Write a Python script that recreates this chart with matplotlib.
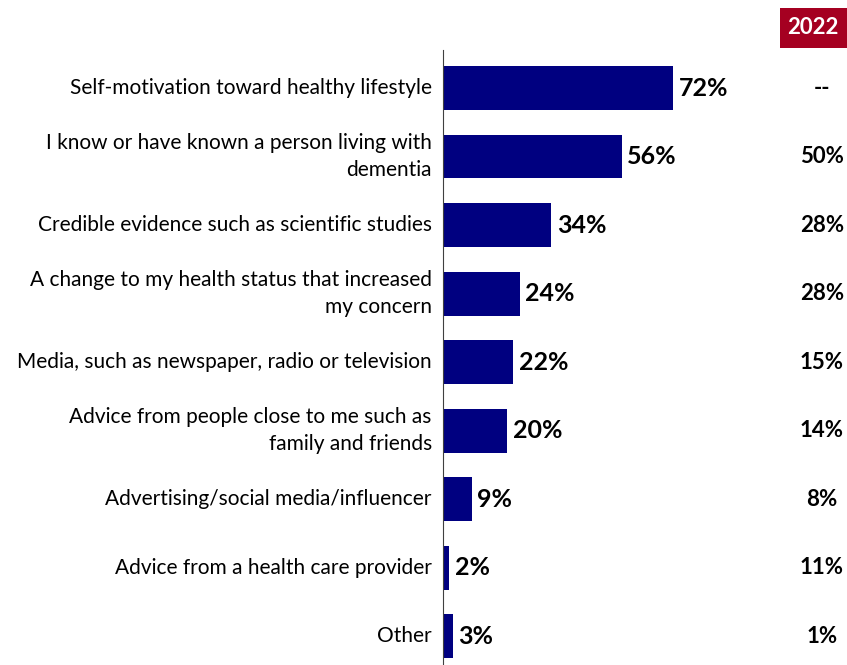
import matplotlib.pyplot as plt
from matplotlib.patches import Rectangle

plt.rcParams['font.family'] = ['Lato', 'DejaVu Sans']

labels = [
    "Self-motivation toward healthy lifestyle",
    "I know or have known a person living with\ndementia",
    "Credible evidence such as scientific studies",
    "A change to my health status that increased\nmy concern",
    "Media, such as newspaper, radio or television",
    "Advice from people close to me such as\nfamily and friends",
    "Advertising/social media/influencer",
    "Advice from a health care provider",
    "Other",
]
values = [72, 56, 34, 24, 22, 20, 9, 2, 3]
prev_2022 = ["--", "50%", "28%", "28%", "15%", "14%", "8%", "11%", "1%"]

fig = plt.figure(figsize=(8.47, 6.65), dpi=100)
ax = fig.add_axes([443 / 847, 0, 404 / 847, 615 / 665])

ypos = list(range(len(values)))
ax.barh(ypos, values, height=0.64, color="#000080")
ax.set_xlim(0, 404 / 3.19)
ax.set_ylim(8.42, -0.555)

for y, v in zip(ypos, values):
    ax.text(v + 1.8, y, f"{v}%", va="center", ha="left",
            fontsize=18, fontweight="bold")

for y, lab in zip(ypos, labels):
    ax.text(-3.5, y, lab, va="center", ha="right", fontsize=15,
            linespacing=1.4)

# previous wave column
for y, p in zip(ypos, prev_2022):
    ax.text((822 - 443) / 404, y, p, transform=ax.get_yaxis_transform(),
            ha="center", va="center", fontsize=16, fontweight="bold")

fig.patches.append(Rectangle((780 / 847, 1 - 48 / 665), 67 / 847, 40 / 665,
                             transform=fig.transFigure, fc="#A50021",
                             ec="none"))
fig.text(813 / 847, 1 - 28 / 665, "2022", ha="center", va="center",
         fontsize=16, fontweight="bold", color="white")

for s in ["top", "right", "bottom"]:
    ax.spines[s].set_visible(False)
ax.spines["left"].set_color("#404040")
ax.set_xticks([])
ax.set_yticks([])

fig.savefig("out.png", dpi=100)
